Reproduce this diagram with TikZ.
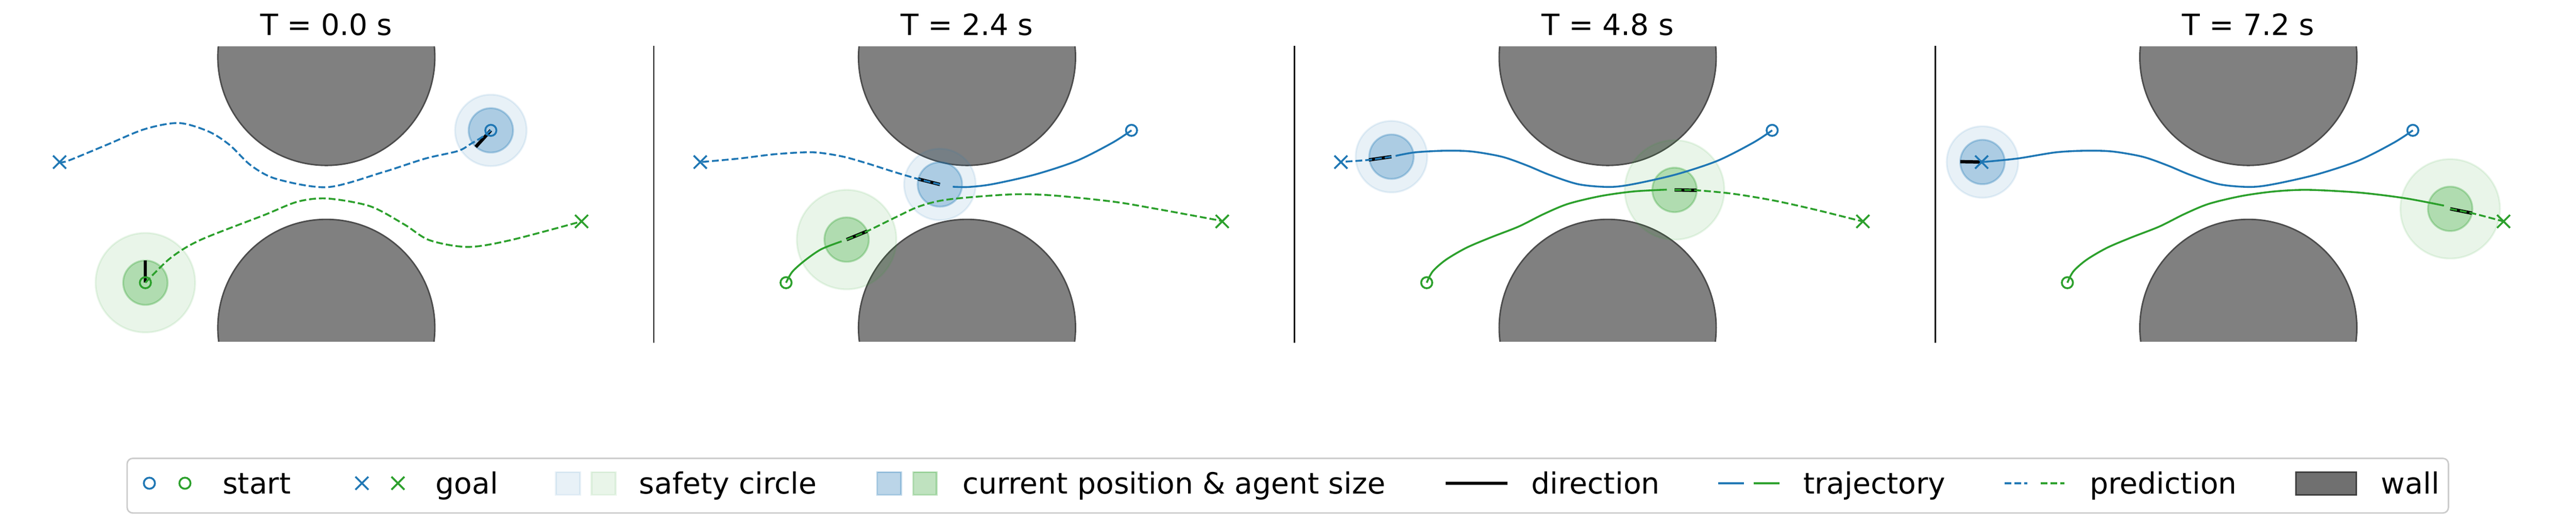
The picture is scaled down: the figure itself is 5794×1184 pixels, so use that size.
\documentclass[tikz,border=0pt]{standalone}
\usepackage{fontspec}
\setmainfont{DejaVu Sans}
\usepackage{tikz}
\usetikzlibrary{shapes.misc}
\definecolor{tabblue}{HTML}{1F77B4}
\definecolor{tabgreen}{HTML}{2CA02C}
\tikzset{
	wall/.style = {draw=black!70, fill=gray, line width=0.8pt},
	wallkey/.style = {draw=black!75, fill=black!56, line width=0.8pt},
	safety/.style = {draw=#1, fill=#1, opacity=0.1, line width=1pt},
	body/.style = {draw=#1, fill=#1, opacity=0.3, line width=1pt},
	heading/.style = {draw=black, line width=1.8pt},
	traj/.style = {draw=#1, line width=1pt},
	pred/.style = {draw=#1, line width=1pt, dash pattern=on 3.7pt off 1.6pt},
	startmark/.style = {circle, draw=#1, line width=1pt, minimum size=6pt, inner sep=0pt},
	goalmark/.style = {cross out, draw=#1, line width=1pt, minimum size=6pt, inner sep=0pt},
	sepline/.style = {draw=black, line width=0.8pt},
	legtext/.style = {anchor=base west, inner sep=0pt},
	legframe/.style = {draw=black!20, fill=white, line width=0.8pt, rounded corners=3pt}
}
\NewDocumentCommand{\endpoints}{}{%
	\coordinate (bs) at (370,293.5);
	\coordinate (bg) at (-600,365);
	\coordinate (gs) at (-407,636.5);
	\coordinate (gg) at (574,498.5);
}
\NewDocumentCommand{\markers}{m}{%
	\node[startmark=tabblue] (bs#1) at (bs) {};
	\node[startmark=tabgreen] (gs#1) at (gs) {};
	\node[goalmark=tabblue] (bg#1) at (bg) {};
	\node[goalmark=tabgreen] (gg#1) at (gg) {};
}
\NewDocumentCommand{\agentdisc}{O{tabblue} m m m}{%
	\draw[safety=#1] (#2) circle[radius=#3];
	\draw[body=#1] (#2) circle[radius=50];
	\draw[heading] (#2) -- (#4);
}

\begin{document}
\begin{tikzpicture}[x=0.24pt, y=-0.24pt, font=\fontsize{15.8pt}{19pt}\selectfont]
\useasboundingbox (0,0) rectangle (5794,1184);

% walls and titles
\foreach \c/\t [count=\i] in {734/0.0, 2175/2.4, 3616/4.8, 5057/7.2}{
	\begin{scope}[shift={(\c,0)}]
		\node[anchor=base] (title\i) at (0,79) {T = \t\ s};
		\begin{scope}
			\clip (-300,104.6) rectangle (300,769.4);
			\draw[wall] (0,128.4) circle[radius=244];
			\draw[wall] (0,737.9) circle[radius=244];
		\end{scope}
	\end{scope}
}
\foreach \sx in {1470.5, 2911.5, 4352.5}
	\draw[sepline] (\sx,103.6) -- (\sx,771.4);

% T = 0.0 s
\begin{scope}[shift={(734,0)}]
	\endpoints
	\coordinate (ba) at (370,293.5);
	\coordinate (bh) at (336,330.8);
	\coordinate (ga) at (-407,636.5);
	\coordinate (gh) at (-407,586.5);
	\agentdisc{ba}{80.5}{bh}
	\agentdisc[tabgreen]{ga}{112}{gh}
	\draw[pred=tabblue] plot[smooth] coordinates {(ba) (351,308.3) (326,323.3) (296,340) (222.7,357) (127,387.8) (2.6,421.4) (-112,403) (-169.6,372.4) (-217.4,326.5) (-265,296) (-332,277) (-408.7,290.8) (-494.8,326.5) (-581,362) (bg)};
	\draw[pred=tabgreen] plot[smooth] coordinates {(ga) (-351.3,581.6) (-284.4,540.8) (-141,484.7) (-64.3,454) (2.6,447) (98.3,464.3) (174.8,505) (232,540.8) (318.3,556) (414,540.8) (gg)};
	\markers{1}
\end{scope}

% T = 2.4 s
\begin{scope}[shift={(2175,0)}]
	\endpoints
	\coordinate (ba) at (-61,415.3);
	\coordinate (bh) at (-110,403);
	\coordinate (ga) at (-270.8,539.5);
	\coordinate (gh) at (-224.5,520.5);
	\agentdisc{ba}{80.5}{bh}
	\agentdisc[tabgreen]{ga}{112}{gh}
	\draw[traj=tabblue] plot[smooth] coordinates {(bs) (327,321.4) (247,362) (153,393) (58,414.5) (4,421) (-32,420.5)};
	\draw[traj=tabgreen] plot[smooth] coordinates {(gs) (-393,612) (-365,586.7) (-328,561.2) (-282,543.4)};
	\draw[pred=tabblue] plot[smooth] coordinates {(ba) (bh) (-161.7,387.8) (-226.4,367.3) (-281.9,352) (-346.6,342.9) (-429.8,347) (-513,357) (bg)};
	\draw[pred=tabgreen] plot[smooth] coordinates {(ga) (gh) (-161.7,489.8) (-106.2,464.3) (-41.4,449) (97.3,437.8) (189.7,439.8) (328.4,454) (420.9,469.4) (559.6,494.9) (gg)};
	\markers{2}
\end{scope}

% T = 4.8 s
\begin{scope}[shift={(3616,0)}]
	\endpoints
	\coordinate (ba) at (-486.3,352.8);
	\coordinate (bh) at (-537,360);
	\coordinate (ga) at (150.4,427.6);
	\coordinate (gh) at (200.4,428.5);
	\agentdisc{ba}{80.5}{bh}
	\agentdisc[tabgreen]{ga}{112}{gh}
	\draw[traj=tabblue] plot[smooth] coordinates {(bs) (327,321.4) (247,362) (153,393) (58,414.5) (4,421) (-65,415) (-130,394) (-182,372.4) (-237.5,353) (-305,341.2) (-364,339.3) (-433,343) (-477,351)};
	\draw[traj=tabgreen] plot[smooth] coordinates {(gs) (-393.5,611) (-364,585) (-318,558) (-264,535) (-200,510) (-144,482) (-89,459) (-15,441.3) (59,431) (133,427)};
	\draw[pred=tabblue] plot[smooth] coordinates {(ba) (bh) (-588,363.8) (bg)};
	\draw[pred=tabgreen] plot[smooth] coordinates {(ga) (gh) (281.2,436.2) (373.7,451.5) (466.1,471.9) (558.6,494.9) (gg)};
	\markers{3}
\end{scope}

% T = 7.2 s
\begin{scope}[shift={(5057,0)}]
	\endpoints
	\coordinate (ba) at (-598,364.8);
	\coordinate (bh) at (-648,364);
	\coordinate (ga) at (454,470.2);
	\coordinate (gh) at (503,480);
	\agentdisc{ba}{80.5}{bh}
	\agentdisc[tabgreen]{ga}{112}{gh}
	\draw[traj=tabblue] plot[smooth] coordinates {(bs) (327,321.4) (247,362) (153,393) (58,414.5) (4,421) (-65,415) (-130,394) (-182,372.4) (-237.5,353) (-305,341.2) (-364,339.3) (-433,343) (-520,357) (bg)};
	\draw[traj=tabgreen] plot[smooth] coordinates {(gs) (-393.5,611) (-364,585) (-318,558) (-264,535) (-200,510) (-144,482) (-89,459) (-15,441.3) (59,431) (135,427.5) (250,433.7) (353,446.4) (440,463)};
	\draw[pred=tabgreen] plot[smooth] coordinates {(ga) (gh) (541.4,489.8) (gg)};
	\markers{4}
\end{scope}

% legend
\draw[legframe] (286,1032) rectangle (5507,1155);
\node[startmark=tabblue] (keystartb) at (336,1088) {};
\node[startmark=tabgreen] (keystartg) at (416,1088) {};
\node[legtext] (labstart) at (500,1112) {start};
\node[goalmark=tabblue] (keygoalb) at (814,1088) {};
\node[goalmark=tabgreen] (keygoalg) at (895,1088) {};
\node[legtext] (labgoal) at (979,1112) {goal};
\draw[safety=tabblue] (1250,1063) rectangle (1305,1114);
\draw[safety=tabgreen] (1330,1063) rectangle (1385,1114);
\node[legtext] (labsafety) at (1437,1112) {safety circle};
\draw[body=tabblue] (1973,1063) rectangle (2027,1114);
\draw[body=tabgreen] (2054,1063) rectangle (2107,1114);
\node[legtext] (labbody) at (2164,1112) {current position \& agent size};
\draw[heading] (3252,1088) -- (3391,1088);
\node[legtext] (labheading) at (3444,1112) {direction};
\draw[traj=tabblue] (3864,1088) -- (3922,1088);
\draw[traj=tabgreen] (3944,1088) -- (4002,1088);
\node[legtext] (labtraj) at (4055,1112) {trajectory};
\draw[pred=tabblue] (4509,1088) -- (4560,1088);
\draw[pred=tabgreen] (4590,1088) -- (4643,1088);
\node[legtext] (labpred) at (4700,1112) {prediction};
\draw[wallkey] (5164,1063) rectangle (5300,1114);
\node[legtext] (labwall) at (5355,1112) {wall};
\end{tikzpicture}
\end{document}
